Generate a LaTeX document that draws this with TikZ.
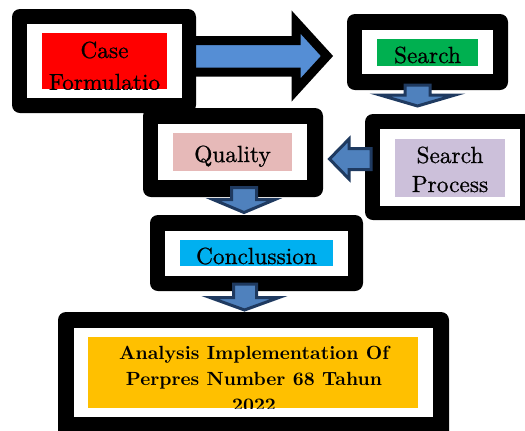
\documentclass[tikz,border=0pt]{standalone}
\usepackage{fontspec}
\newfontfamily\stagefont{lmroman10-regular.otf}[FakeBold=0.8]
\newfontfamily\resultfont{lmroman10-bold.otf}
\definecolor{casered}{HTML}{FF0000}
\definecolor{searchgreen}{HTML}{00B050}
\definecolor{processlilac}{HTML}{CCC0DA}
\definecolor{qualitypink}{HTML}{E6B9B8}
\definecolor{conclcyan}{HTML}{00B0F0}
\definecolor{resultamber}{HTML}{FFC000}
\definecolor{bigblue}{HTML}{558ED5}
\definecolor{arrowblue}{HTML}{4F81BD}
\definecolor{arrownavy}{HTML}{1F3A60}
\tikzset{
  frame/.style={fill=black, rounded corners=6pt},
  pane/.style={fill=white},
  stagetext/.style={inner sep=0pt, anchor=base, font=\stagefont\fontsize{17.5}{21}\selectfont},
  resulttext/.style={inner sep=0pt, anchor=base, font=\resultfont\fontsize{14.3}{17}\selectfont},
  bigarrow/.style={draw=black, fill=bigblue, line width=6.75pt, miter limit=10},
  smallarrow/.style={draw=arrownavy, fill=arrowblue, line width=2.25pt, miter limit=10},
}
\begin{document}
\begin{tikzpicture}[x=0.75pt,y=-0.75pt]
\useasboundingbox (0,0) rectangle (525,430);
\clip (0,0) rectangle (525,430);

% wide arrow from the first stage to the search stage
\coordinate (bigtail) at (190,56);
\coordinate (bigtip) at (327,56);
\draw[bigarrow] ([yshift=15.5*0.75pt]bigtail) -- (296,40.5) -- (296,22) -- (bigtip)
  -- (296,90) -- (296,72) -- ([yshift=-16*0.75pt]bigtail) -- cycle;

% stage frames
\fill[frame] (12,9) rectangle (196,113);
\fill[pane] (27,24) rectangle (182,98);
\coordinate (case) at (104,61);

\fill[frame] (347,14) rectangle (508,90);
\fill[pane] (362,30) rectangle (493,74);
\fill[searchgreen] (377,39) rectangle (478,66);
\node[stagetext] (search) at (427.5,63) {Search};

\fill[frame] (365,114) rectangle (540,220);
\fill[pane] (380,129) rectangle (520,206);
\fill[processlilac] (395,139) rectangle (505,197);
\node[stagetext] (process1) at (450,163) {Search};
\node[stagetext] (process2) at (450,192) {Process};

\fill[frame] (143,108) rectangle (323,197);
\fill[pane] (158,124) rectangle (307,180);
\fill[qualitypink] (173,133) rectangle (292,171);
\node[stagetext] (quality) at (232.5,162) {Quality};

\fill[frame] (150,215) rectangle (363,291);
\fill[pane] (165,231) rectangle (348,276);
\fill[conclcyan] (180,240) rectangle (333,266);
\node[stagetext] (conclusion) at (256.5,264) {Conclussion};

\fill[frame] (58,312) rectangle (449,440);
\fill[pane] (74,328) rectangle (433,417);

% labels cut off by their coloured panels
\begin{scope}
  \clip (42,33) rectangle (167,89);
  \fill[casered] (42,33) rectangle (167,89);
  \node[stagetext] (case1) at (104.5,58) {Case};
  \node[stagetext] (case2) at (104.5,90) {Formulatio};
\end{scope}
\begin{scope}
  \clip (88,337) rectangle (418,408);
  \fill[resultamber] (88,337) rectangle (418,408);
  \node[resulttext] (result1) at (254,359) {Analysis Implementation Of};
  \node[resulttext] (result2) at (254,385) {Perpres Number 68 Tahun};
  \node[resulttext] (result3) at (254,411) {2022};
\end{scope}

% small block arrows between stages
\draw[smallarrow] (405,85) -- (405,95) -- (380,95) -- (417.5,106) -- (455,95)
  -- (430,95) -- (430,85) -- cycle;
\draw[smallarrow] (371,148.5) -- (349,148.5) -- (349,139) -- (329.5,159)
  -- (349,179) -- (349,169.5) -- (371,169.5) -- cycle;
\draw[smallarrow] (231.5,187.5) -- (231.5,199.5) -- (213,199.5) -- (244,212.5)
  -- (275,199.5) -- (256.5,199.5) -- (256.5,187.5) -- cycle;
\draw[smallarrow] (233.5,284) -- (233.5,297.5) -- (210,297.5) -- (244.5,310)
  -- (279,297.5) -- (256.5,297.5) -- (256.5,284) -- cycle;
\end{tikzpicture}
\end{document}
